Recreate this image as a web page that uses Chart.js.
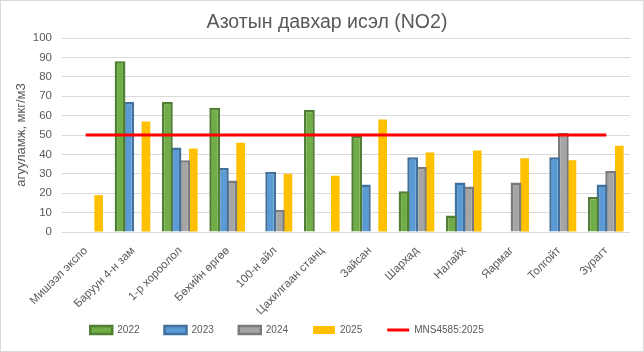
<!DOCTYPE html>
<html>
<head>
<meta charset="utf-8">
<script src="https://cdn.jsdelivr.net/npm/chart.js@4.4.1/dist/chart.umd.min.js"></script>
<style>
  html, body { margin: 0; padding: 0; background: #fff; }
  #wrap { position: relative; width: 644px; height: 352px; }
  #frame { position: absolute; left: 0; top: 0; width: 644px; height: 352px; box-sizing: border-box; border: 1px solid #d9d9d9; pointer-events: none; }
</style>
</head>
<body>
<div id="wrap">
  <canvas id="c" width="644" height="352"></canvas>
  <div id="frame"></div>
</div>
<script>
const categories = ["Мишээл экспо", "Баруун 4-н зам", "1-р хороолол", "Бөхийн өргөө", "100-н айл", "Цахилгаан станц", "Зайсан", "Шархад", "Налайх", "Яармаг", "Толгойт", "Зурагт"];
const values2022 = [null, 88, 67, 64, null, 63, 49.5, 21, 8.5, null, null, 18];
const values2023 = [null, 67, 43.5, 33, 31, null, 24.5, 38.5, 25.5, null, 38.5, 24.5];
const values2024 = [null, null, 37, 26.5, 11.5, null, null, 33.5, 23.5, 25.5, 51, 31.5];
const values2025 = [19, 57, 43, 46, 30, 29, 58, 41, 42, 38, 37, 44.5];
const normValues = [50, 50, 50, 50, 50, 50, 50, 50, 50, 50, 50, 50];
const seriesNames = ["2022", "2023", "2024", "2025", "MNS4585:2025"];
const titleText = "Азотын давхар исэл (NO2)";
const yTitle = "агууламж, мкг/м3";

Chart.defaults.font.family = "'Liberation Sans', Arial, sans-serif";
Chart.defaults.color = "#595959";

const layoutTweaks = {
  id: 'layoutTweaks',
  afterLayout(chart) {
    const lg = chart.legend;
    if (lg) { lg.left -= 28; lg.right -= 28; }
    const tb = chart.titleBlock;
    if (tb) { tb.left += 12; tb.right += 12; }
    // let rotated category labels extend below the axis box (no clipping)
    chart.scales.x.bottom += 30;
  }
};

new Chart(document.getElementById('c'), {
  type: 'bar',
  data: {
    labels: categories,
    datasets: [
      { label: seriesNames[0], data: values2022, backgroundColor: '#70AD47', borderColor: '#507E32', borderWidth: 2.5, barPercentage: 1.25, categoryPercentage: 0.73 },
      { label: seriesNames[1], data: values2023, backgroundColor: '#5B9BD5', borderColor: '#41719C', borderWidth: 2.5, barPercentage: 1.25, categoryPercentage: 0.73 },
      { label: seriesNames[2], data: values2024, backgroundColor: '#A5A5A5', borderColor: '#7B7B7B', borderWidth: 2.5, barPercentage: 1.25, categoryPercentage: 0.73 },
      { label: seriesNames[3], data: values2025, backgroundColor: '#FFC000', borderColor: '#FFC000', borderWidth: 0, barPercentage: 1.0, categoryPercentage: 0.73 },
      { label: seriesNames[4], data: normValues, type: 'line', borderColor: '#FF0000', backgroundColor: '#FF0000', borderWidth: 3, pointRadius: 0, order: -1 }
    ]
  },
  options: {
    responsive: false,
    animation: false,
    layout: { padding: { left: 0, right: 14, top: 0, bottom: 7 } },
    plugins: {
      title: {
        display: true, text: titleText, color: '#595959',
        font: { size: 19.5, weight: 'normal' },
        padding: { top: 10.5, bottom: 4.1 }
      },
      legend: {
        position: 'bottom',
        labels: {
          usePointStyle: true, pointStyleWidth: 22, boxHeight: 8, padding: 25,
          font: { size: 10 }, color: '#595959',
          sort: (a, b) => a.datasetIndex - b.datasetIndex,
          generateLabels(chart) {
            return Chart.defaults.plugins.legend.labels.generateLabels(chart).map(l => {
              l.pointStyle = (l.datasetIndex === 4) ? 'line' : 'rect';
              return l;
            });
          }
        }
      },
      tooltip: { enabled: false }
    },
    scales: {
      x: {
        grid: { display: false, drawTicks: false },
        border: { display: false },
        ticks: { autoSkip: false, maxRotation: 45, minRotation: 45, padding: 12, font: { size: 11.5 }, color: '#595959' },
        afterFit(s) { s.height = 68; }
      },
      y: {
        min: 0, max: 100,
        grid: { color: '#D9D9D9', lineWidth: 1, drawTicks: false },
        border: { display: false },
        ticks: { stepSize: 10, padding: 10, font: { size: 11.5 }, color: '#595959' },
        title: { display: true, text: yTitle, font: { size: 13 }, color: '#595959', padding: { top: 13.5, bottom: 0 } },
        afterFit(s) { s.width = 62; }
      }
    }
  },
  plugins: [layoutTweaks]
});
</script>
</body>
</html>
